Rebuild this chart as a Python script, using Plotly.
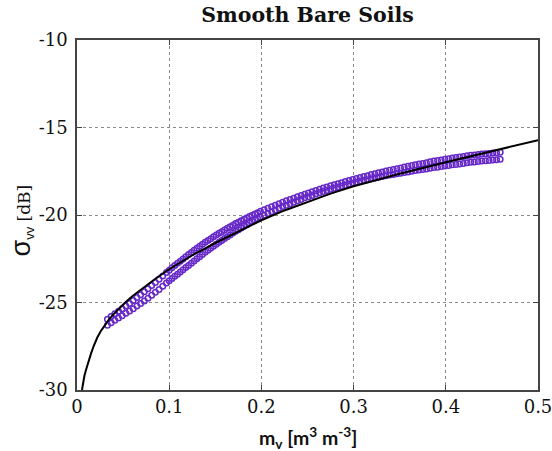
import plotly.graph_objects as go

# ---- data ----
model_mv = [0.0054, 0.0065, 0.008, 0.0095, 0.011, 0.013, 0.015, 0.018, 0.022, 0.026, 0.03,
            0.035, 0.04, 0.046, 0.052, 0.06, 0.07, 0.085, 0.1, 0.125, 0.15, 0.175, 0.2,
            0.225, 0.25, 0.275, 0.3, 0.35, 0.4, 0.45, 0.5]
model_db = [-30.0, -29.6, -29.2, -28.9, -28.6, -28.25, -27.95, -27.5, -27.0, -26.62, -26.3,
            -25.95, -25.65, -25.32, -25.02, -24.64, -24.22, -23.64, -23.1, -22.3, -21.6, -20.93, -20.3,
            -19.74, -19.24, -18.78, -18.36, -17.64, -16.99, -16.37, -15.72]

obs_mv = [0.033, 0.037, 0.041, 0.045, 0.049, 0.053, 0.057, 0.061, 0.065, 0.069, 0.073, 0.077,
          0.081, 0.085, 0.089, 0.093, 0.097,
          0.100, 0.103, 0.106, 0.109, 0.112, 0.115, 0.118, 0.121, 0.124, 0.127, 0.130, 0.133,
          0.136, 0.139, 0.142, 0.145, 0.148, 0.151, 0.154, 0.157, 0.160, 0.163, 0.166, 0.169,
          0.172, 0.175, 0.178, 0.181, 0.184, 0.187, 0.190, 0.193, 0.196, 0.199,
          0.203, 0.207, 0.211, 0.215, 0.219, 0.223, 0.227, 0.231, 0.235, 0.239, 0.243, 0.247,
          0.251, 0.255, 0.259, 0.263, 0.267, 0.271, 0.275, 0.279, 0.283, 0.287, 0.291, 0.295,
          0.299, 0.303, 0.307, 0.311, 0.315, 0.319, 0.323, 0.327, 0.331, 0.335, 0.339, 0.343,
          0.347, 0.351, 0.355, 0.359, 0.363, 0.367, 0.371, 0.375, 0.379, 0.383, 0.387, 0.391,
          0.395, 0.399, 0.403, 0.407, 0.411, 0.415, 0.419, 0.423, 0.427, 0.431, 0.435, 0.439,
          0.443, 0.447, 0.451, 0.455, 0.459]

obs_upper_db = [-25.95, -25.80, -25.64, -25.50, -25.36, -25.20, -25.05, -24.89, -24.72, -24.56,
                -24.39, -24.21, -24.03, -23.85, -23.67, -23.48, -23.29,
                -23.15, -23.02, -22.89, -22.76, -22.64, -22.51, -22.38, -22.26, -22.14, -22.02,
                -21.90, -21.79, -21.67, -21.56, -21.45, -21.35, -21.24, -21.14, -21.04, -20.95,
                -20.85, -20.76, -20.67, -20.58, -20.49, -20.41, -20.33, -20.24, -20.17, -20.09,
                -20.01, -19.94, -19.87, -19.79,
                -19.70, -19.62, -19.53, -19.44, -19.35, -19.27, -19.19, -19.11, -19.04, -18.96,
                -18.89, -18.81, -18.74, -18.67, -18.60, -18.53, -18.46, -18.40, -18.33, -18.27,
                -18.21, -18.15, -18.09, -18.03, -17.97, -17.91, -17.86, -17.80, -17.75, -17.69,
                -17.64, -17.59, -17.54, -17.49, -17.44, -17.40, -17.35, -17.31, -17.26, -17.22,
                -17.17, -17.13, -17.09, -17.05, -17.01, -16.96, -16.92, -16.89, -16.85, -16.81,
                -16.78, -16.74, -16.71, -16.68, -16.65, -16.62, -16.59, -16.57, -16.54, -16.52,
                -16.50, -16.48, -16.46, -16.44, -16.42]

obs_lower_db = [-26.30, -26.16, -26.01, -25.89, -25.76, -25.62, -25.49, -25.35, -25.20, -25.06,
                -24.91, -24.75, -24.58, -24.42, -24.25, -24.07, -23.88,
                -23.75, -23.63, -23.50, -23.38, -23.26, -23.13, -23.00, -22.88, -22.75, -22.63,
                -22.50, -22.38, -22.25, -22.13, -22.01, -21.90, -21.78, -21.67, -21.55, -21.45,
                -21.34, -21.24, -21.14, -21.03, -20.93, -20.84, -20.74, -20.64, -20.55, -20.46,
                -20.37, -20.29, -20.21, -20.11,
                -20.01, -19.92, -19.82, -19.72, -19.61, -19.52, -19.44, -19.35, -19.27, -19.18,
                -19.11, -19.02, -18.95, -18.88, -18.80, -18.73, -18.66, -18.60, -18.53, -18.47,
                -18.41, -18.35, -18.30, -18.24, -18.18, -18.13, -18.08, -18.03, -17.98, -17.93,
                -17.89, -17.84, -17.80, -17.76, -17.72, -17.69, -17.64, -17.61, -17.57, -17.54,
                -17.50, -17.46, -17.43, -17.40, -17.37, -17.33, -17.29, -17.27, -17.23, -17.20,
                -17.17, -17.13, -17.11, -17.08, -17.05, -17.02, -16.99, -16.97, -16.94, -16.92,
                -16.90, -16.88, -16.86, -16.84, -16.82]

x_ticks = [0, 0.1, 0.2, 0.3, 0.4, 0.5]
x_tick_labels = ["0", "0.1", "0.2", "0.3", "0.4", "0.5"]
y_ticks = [-30, -25, -20, -15, -10]
y_tick_labels = ["-30", "-25", "-20", "-15", "-10"]

PURPLE = "#6628c8"
SERIF = "DejaVu Serif"

fig = go.Figure()

for ys in (obs_upper_db, obs_lower_db):
    fig.add_trace(go.Scatter(
        x=obs_mv, y=ys, mode="markers",
        marker=dict(symbol="circle-open", size=5.5, color=PURPLE, line=dict(width=1.5, color=PURPLE)),
        showlegend=False, hoverinfo="skip"))

fig.add_trace(go.Scatter(
    x=model_mv, y=model_db, mode="lines", line=dict(color="black", width=2),
    showlegend=False, hoverinfo="skip"))

axis_common = dict(
    showline=True, linecolor="#444444", linewidth=1.5, mirror="ticks",
    ticks="inside", ticklen=5, tickcolor="#444444", tickwidth=1,
    showgrid=True, gridcolor="#8a8a8a", gridwidth=1, griddash="dot",
    zeroline=False, tickfont=dict(family=SERIF, size=18, color="#111111"),
    ticklabeloverflow="allow", automargin=False,
)

fig.update_xaxes(range=[0, 0.5], tickvals=x_ticks, ticktext=x_tick_labels, **axis_common)
fig.update_yaxes(range=[-30, -10], tickvals=y_ticks, ticktext=y_tick_labels, ticklabelstandoff=4, **axis_common)

fig.update_layout(
    width=552, height=451,
    margin=dict(l=77, r=14, t=40, b=61, autoexpand=False),
    paper_bgcolor="white", plot_bgcolor="white",
    title=dict(text="<b>Smooth Bare Soils</b>", x=0.5, xref="paper", xanchor="center",
               y=1 - 15 / 451, yanchor="middle", yref="container",
               font=dict(family=SERIF, size=20.5, color="#111111")),
    annotations=[
        dict(text="<b>m<sub>v</sub> [m<sup>3</sup> m<sup>-3</sup>]</b>",
             xref="paper", yref="paper", x=0.5, y=-0.137, xanchor="center", yanchor="middle",
             showarrow=False, font=dict(family="Lato", size=19.5, color="#111111")),
        dict(text="<span style='font-family:Liberation Sans;font-size:27px'>σ</span>"
                  "<sub><span style='font-family:Liberation Sans;font-size:13px'>vv</span></sub>"
                  " [dB]",
             xref="paper", yref="paper", x=-0.121, y=0.485, xanchor="center", yanchor="middle",
             textangle=-90, showarrow=False, font=dict(family=SERIF, size=17, color="#111111")),
    ],
)

fig.write_html("out.html")
